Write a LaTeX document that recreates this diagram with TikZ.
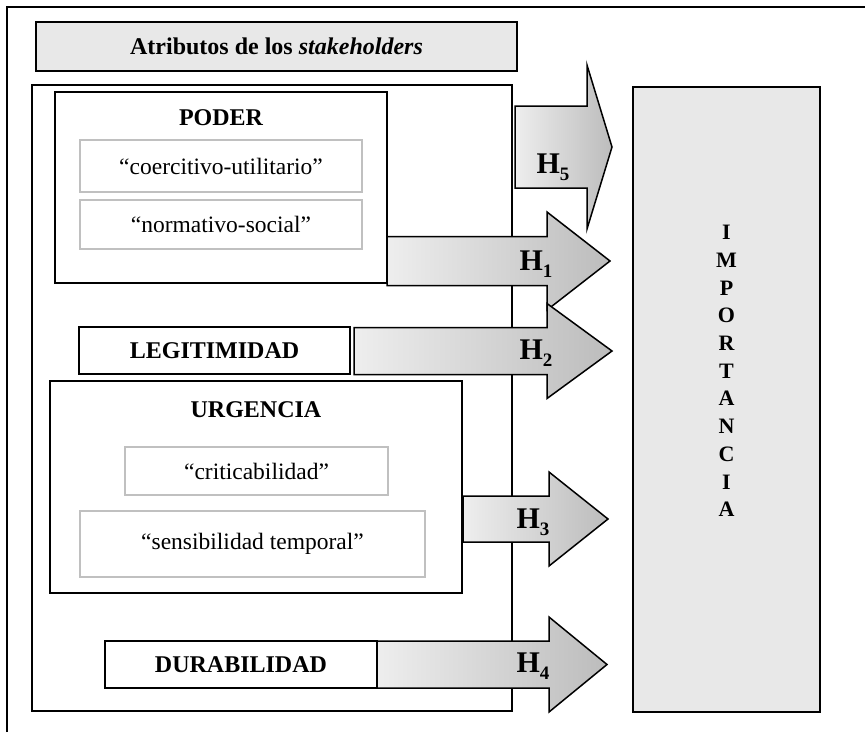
\documentclass[tikz,border=0pt]{standalone}
\usepackage{fontspec}
\setmainfont{Liberation Serif}
\usepackage{tikz}
\usetikzlibrary{positioning}
\definecolor{panelgray}{RGB}{232,232,232}
\definecolor{softgray}{RGB}{192,192,192}
\definecolor{arrowlight}{RGB}{238,238,238}
\definecolor{arrowdark}{RGB}{188,188,188}
\newcommand{\hsub}[1]{H\raisebox{-0.22em}{\fontsize{19}{19}\selectfont #1}}
% block arrow: start x, head base x, tip x, centre y, half body, half head
\newcommand{\blockarrow}[6]{%
  \path[harrow] (#1,#4-#5) -- (#2,#4-#5) -- (#2,#4-#6) -- (#3,#4)
    -- (#2,#4+#6) -- (#2,#4+#5) -- (#1,#4+#5) -- cycle;}

\begin{document}
\begin{tikzpicture}[x=1pt, y=-1pt,
                font=\fontsize{23.5}{27}\selectfont,
                box/.style={rectangle, draw, line width=2.5pt, inner sep=0pt},
                subbox/.style={rectangle, draw=softgray, line width=2.5pt, inner sep=0pt,
                               font=\fontsize{23.5}{27}\selectfont},
                heading/.style={font=\fontsize{24}{27}\selectfont\bfseries},
                harrow/.style={draw, line width=1.5pt, left color=arrowlight, right color=arrowdark},
                hlabel/.style={font=\fontsize{30}{31}\selectfont\bfseries}
            ]
            \useasboundingbox (0,0) rectangle (865,732);
            \draw[line width=1.5pt] (7,732) -- (7,7) -- (865,7);

            \node[box, line width=1.5pt, fill=panelgray, minimum width=481pt, minimum height=49pt, heading](attrs) at (276.5,46.5){Atributos de los \textit{stakeholders}};
            \node[box, minimum width=480pt, minimum height=626pt](group) at (272,398){};

            \node[box, minimum width=332pt, minimum height=191pt](poder) at (221,187.5){};
            \node[heading](poderlbl) at (221,118){PODER};
            \node[subbox, minimum width=282pt, minimum height=52pt](coerc) at (221,166){“coercitivo-utilitario”};
            \node[subbox, minimum width=282pt, minimum height=49pt](norm) at (221,224.5){“normativo-social”};

            \node[box, minimum width=271pt, minimum height=47pt, heading](legit) at (214.5,350.5){LEGITIMIDAD};

            \node[box, minimum width=412pt, minimum height=212pt](urg) at (256,487){};
            \node[heading](urglbl) at (256,410){URGENCIA};
            \node[subbox, minimum width=263pt, minimum height=48pt](crit) at (256.5,471){“criticabilidad”};
            \node[subbox, minimum width=345pt, minimum height=66pt](sens) at (252.5,544){“sensibilidad temporal”};

            \node[box, minimum width=272pt, minimum height=47pt, heading](durab) at (241,664.5){DURABILIDAD};

            \node[box, fill=panelgray, minimum width=187pt, minimum height=625pt](imp) at (726.5,399.5){};
            \node[font=\fontsize{22}{27.7}\selectfont\bfseries, align=center](implbl) at (imp.center |- 0,371){I\\M\\P\\O\\R\\T\\A\\N\\C\\I\\A};

            \blockarrow{515}{587}{612}{147}{41}{82}
            \blockarrow{387}{547}{610}{261}{24.5}{49}
            \blockarrow{354}{547}{612}{351}{23.5}{47.5}
            \blockarrow{463}{549}{608}{519}{23}{47}
            \blockarrow{377}{549}{607}{664.5}{23.5}{47.5}

            \node[hlabel](h5) at (553,167){\hsub{5}};
            \node[hlabel](h1) at (536,264){\hsub{1}};
            \node[hlabel](h2) at (536,353){\hsub{2}};
            \node[hlabel](h3) at (533,522){\hsub{3}};
            \node[hlabel](h4) at (533,666){\hsub{4}};
        \end{tikzpicture}
\end{document}
